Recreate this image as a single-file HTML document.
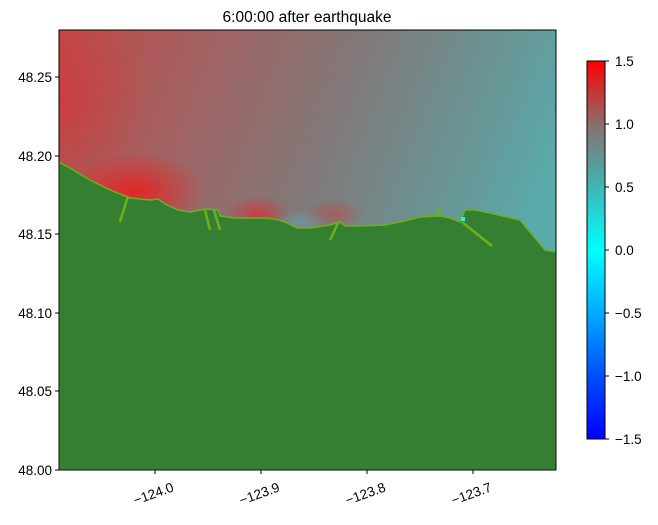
<!DOCTYPE html>
<html><head><style>
body{margin:0;background:#fff;width:658px;height:520px;overflow:hidden;font-family:"Liberation Sans",sans-serif;}
</style></head><body>
<svg width="658" height="520" xmlns="http://www.w3.org/2000/svg" font-family="Liberation Sans, sans-serif" font-size="13.5">
<defs>
<linearGradient id="bg" x1="0" y1="0" x2="1" y2="0.35">
<stop offset="0" stop-color="#c04848"/>
<stop offset="0.3" stop-color="#a06464"/>
<stop offset="0.55" stop-color="#827878"/>
<stop offset="0.8" stop-color="#6a9494"/>
<stop offset="1" stop-color="#58acac"/>
</linearGradient>
<radialGradient id="r1" cx="0.5" cy="0.5" r="0.5">
<stop offset="0" stop-color="#ee1c1c" stop-opacity="0.85"/>
<stop offset="1" stop-color="#ee1c1c" stop-opacity="0"/>
</radialGradient>
<radialGradient id="cy1" cx="0.5" cy="0.5" r="0.5">
<stop offset="0" stop-color="#60b0c0" stop-opacity="0.5"/>
<stop offset="1" stop-color="#60b0c0" stop-opacity="0"/>
</radialGradient>
<linearGradient id="cb" x1="0" y1="1" x2="0" y2="0">
<stop offset="0" stop-color="#0000ff"/>
<stop offset="0.17" stop-color="#0050ff"/>
<stop offset="0.33" stop-color="#00aaff"/>
<stop offset="0.5" stop-color="#00ffff"/>
<stop offset="0.67" stop-color="#40b4b4"/>
<stop offset="0.83" stop-color="#8a6e6e"/>
<stop offset="1" stop-color="#ff0000"/>
</linearGradient>
<clipPath id="pc"><rect x="59" y="30" width="497" height="440"/></clipPath>
</defs>
<text x="307" y="22" text-anchor="middle" font-size="15.5">6:00:00 after earthquake</text>
<g clip-path="url(#pc)">
<rect x="59" y="30" width="497" height="440" fill="url(#bg)"/>
<ellipse cx="60" cy="100" rx="90" ry="90" fill="url(#r1)" opacity="0.35"/>
<ellipse cx="135" cy="192" rx="70" ry="40" fill="url(#r1)"/>
<ellipse cx="258" cy="214" rx="32" ry="18" fill="url(#r1)" opacity="0.7"/>
<ellipse cx="335" cy="214" rx="30" ry="16" fill="url(#r1)" opacity="0.4"/>
<ellipse cx="300" cy="222" rx="25" ry="12" fill="url(#cy1)"/>
<polygon fill="#357f33" stroke="#6fb01a" stroke-width="1.5" points="59,162 70,168 90,180 110,190 130,198 150,200 158,199 165,204 178,210 190,212 205,209 218,210 220,216 235,218 250,218 265,218 275,219 285,222 297,228 310,228 330,225 340,222 345,226 360,226 385,225 400,222 420,217 440,216 450,218 460,222 465,210 475,210 490,213 520,220 530,232 535,238 545,250 556,252 556,470 59,470"/>
<g stroke="#6fb01a" stroke-width="2.5" fill="none">
<path d="M128,196 L120,222"/><path d="M205,210 L210,230"/><path d="M214,210 L220,230"/>
<path d="M338,223 L330,240"/><path d="M462,222 L492,246"/><path d="M437,216 L440,208"/>
</g>
<rect x="461" y="217" width="4" height="4" fill="#00ffff"/>
</g>
<rect x="59" y="30" width="497" height="440" fill="none" stroke="#000" stroke-width="1"/>
<g stroke="#000">
<line x1="55" y1="77" x2="59" y2="77"/><line x1="55" y1="156" x2="59" y2="156"/>
<line x1="55" y1="234" x2="59" y2="234"/><line x1="55" y1="313" x2="59" y2="313"/>
<line x1="55" y1="391" x2="59" y2="391"/><line x1="55" y1="470" x2="59" y2="470"/>
<line x1="155" y1="470" x2="155" y2="474"/><line x1="261" y1="470" x2="261" y2="474"/>
<line x1="367" y1="470" x2="367" y2="474"/><line x1="473" y1="470" x2="473" y2="474"/>
</g>
<g text-anchor="end">
<text x="52" y="82">48.25</text><text x="52" y="161">48.20</text><text x="52" y="239">48.15</text>
<text x="52" y="318">48.10</text><text x="52" y="396">48.05</text><text x="52" y="475">48.00</text>
</g>
<g text-anchor="middle">
<text transform="translate(155,498) rotate(-20)">−124.0</text>
<text transform="translate(261,498) rotate(-20)">−123.9</text>
<text transform="translate(367,498) rotate(-20)">−123.8</text>
<text transform="translate(473,498) rotate(-20)">−123.7</text>
</g>
<rect x="587" y="61" width="18" height="378" fill="url(#cb)" stroke="#000" stroke-width="1"/>
<g stroke="#000">
<line x1="605" y1="61" x2="609" y2="61"/><line x1="605" y1="124" x2="609" y2="124"/>
<line x1="605" y1="187" x2="609" y2="187"/><line x1="605" y1="250" x2="609" y2="250"/>
<line x1="605" y1="313" x2="609" y2="313"/><line x1="605" y1="376" x2="609" y2="376"/>
<line x1="605" y1="439" x2="609" y2="439"/>
</g>
<g>
<text x="615" y="66">1.5</text><text x="615" y="129">1.0</text><text x="615" y="192">0.5</text>
<text x="615" y="255">0.0</text><text x="615" y="318">−0.5</text><text x="615" y="381">−1.0</text>
<text x="615" y="444">−1.5</text>
</g>
</svg>
</body></html>
